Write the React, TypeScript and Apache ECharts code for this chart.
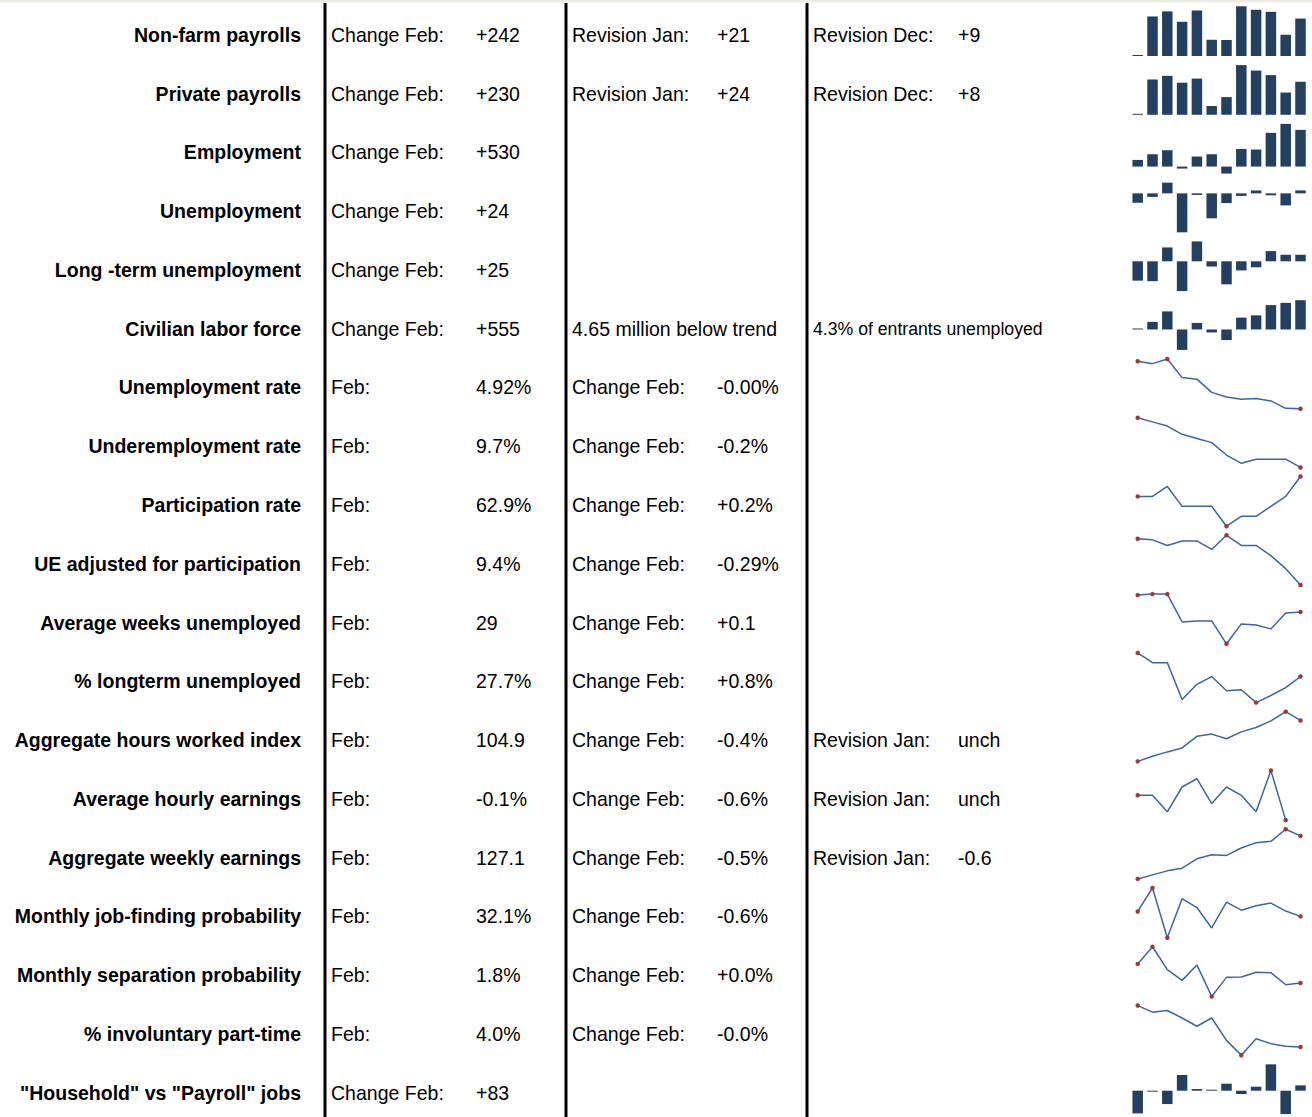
import React, { useEffect, useRef } from "react";
import * as echarts from "echarts";

// ---------- table texts ----------
const labels = [
  "Non-farm payrolls",
  "Private payrolls",
  "Employment",
  "Unemployment",
  "Long -term unemployment",
  "Civilian labor force",
  "Unemployment rate",
  "Underemployment rate",
  "Participation rate",
  "UE adjusted for participation",
  "Average weeks unemployed",
  "% longterm unemployed",
  "Aggregate hours worked index",
  "Average hourly earnings",
  "Aggregate weekly earnings",
  "Monthly job-finding probability",
  "Monthly separation probability",
  "% involuntary part-time",
  "\"Household\" vs \"Payroll\" jobs",
];

const col1Key = [
  "Change Feb:", "Change Feb:", "Change Feb:", "Change Feb:", "Change Feb:", "Change Feb:",
  "Feb:", "Feb:", "Feb:", "Feb:", "Feb:", "Feb:", "Feb:", "Feb:", "Feb:", "Feb:", "Feb:", "Feb:",
  "Change Feb:",
];
const col1Val = [
  "+242", "+230", "+530", "+24", "+25", "+555",
  "4.92%", "9.7%", "62.9%", "9.4%", "29", "27.7%", "104.9", "-0.1%", "127.1", "32.1%", "1.8%", "4.0%",
  "+83",
];
const col2Key = [
  "Revision Jan:", "Revision Jan:", "", "", "", "4.65 million below trend",
  "Change Feb:", "Change Feb:", "Change Feb:", "Change Feb:", "Change Feb:", "Change Feb:",
  "Change Feb:", "Change Feb:", "Change Feb:", "Change Feb:", "Change Feb:", "Change Feb:",
  "",
];
const col2Val = [
  "+21", "+24", "", "", "", "",
  "-0.00%", "-0.2%", "+0.2%", "-0.29%", "+0.1", "+0.8%",
  "-0.4%", "-0.6%", "-0.5%", "-0.6%", "+0.0%", "-0.0%",
  "",
];
const col3Key = [
  "Revision Dec:", "Revision Dec:", "", "", "", "4.3% of entrants unemployed",
  "", "", "", "", "", "",
  "Revision Jan:", "Revision Jan:", "Revision Jan:", "", "", "",
  "",
];
const col3Val = [
  "+9", "+8", "", "", "", "",
  "", "", "", "", "", "",
  "unch", "unch", "-0.6", "", "", "",
  "",
];

// ---------- sparkline data (Mar .. Feb) ----------
const months = ["Mar", "Apr", "May", "Jun", "Jul", "Aug", "Sep", "Oct", "Nov", "Dec", "Jan", "Feb"];

const nonFarmPayrolls = [84, 251, 273, 228, 277, 150, 149, 295, 280, 271, 172, 242];
const privatePayrolls = [90, 240, 256, 226, 244, 124, 163, 303, 279, 259, 183, 230];
const employment = [96, 178, 236, -29, 145, 178, -101, 255, 246, 487, 617, 530];
const unemployment = [-77, -29, 88, -320, -13, -205, -80, -21, 24, -16, -99, 24];
const longTermUnemployment = [-74, -76, 53, -114, 76, -20, -88, -35, -23, 39, 25, 25];
const civilianLaborForce = [6, 144, 343, -387, 125, -56, -200, 225, 268, 462, 505, 555];
const unemploymentRate = [5.53, 5.5, 5.56, 5.32, 5.3, 5.13, 5.07, 5.04, 5.05, 5.02, 4.924, 4.92];
const underemploymentRate = [10.9, 10.8, 10.7, 10.5, 10.4, 10.3, 10.0, 9.8, 9.9, 9.9, 9.9, 9.7];
const participationRate = [62.7, 62.7, 62.8, 62.6, 62.6, 62.6, 62.4, 62.5, 62.5, 62.6, 62.7, 62.9];
const ueAdjusted = [10.22, 10.2, 10.1, 10.18, 10.18, 10.03, 10.28, 10.1, 10.1, 9.92, 9.69, 9.4];
const avgWeeksUnemployed = [30.7, 30.8, 30.8, 28.0, 28.1, 28.1, 25.8, 27.8, 27.7, 27.3, 28.9, 29.0];
const pctLongtermUnemployed = [29.4, 28.7, 28.7, 26.05, 27.14, 27.7, 26.68, 26.75, 25.83, 26.34, 26.9, 27.7];
const aggHoursIndex = [103.04, 103.27, 103.47, 103.65, 104.18, 104.28, 104.07, 104.38, 104.58, 104.88, 105.3, 104.9];
const avgHourlyEarnings = [0.2, 0.2, 0.0, 0.3, 0.4, 0.1, 0.3, 0.2, 0.0, 0.5, -0.1, null];
const aggWeeklyEarnings = [123.9, 124.2, 124.5, 124.7, 125.4, 125.7, 125.65, 126.2, 126.6, 126.7, 127.6, 127.1];
const jobFindingProb = [32.66, 35.3, 29.7, 34.1, 33.1, 30.8, 33.7, 32.8, 33.3, 33.6, 32.7, 32.1];
const separationProb = [1.914, 2.016, 1.88, 1.816, 1.908, 1.72, 1.834, 1.836, 1.864, 1.862, 1.79, 1.8];
const involuntaryPartTime = [4.5, 4.42, 4.44, 4.35, 4.25, 4.35, 4.08, 3.9, 4.1, 4.04, 4.01, 4.0];
const householdVsPayroll = [-353, -5, -208, 244, 26, 2, 109, -52, 62, 410, -363, 83];

const sparkData: (number | null)[][] = [
  nonFarmPayrolls, privatePayrolls, employment, unemployment, longTermUnemployment, civilianLaborForce,
  unemploymentRate, underemploymentRate, participationRate, ueAdjusted, avgWeeksUnemployed,
  pctLongtermUnemployed, aggHoursIndex, avgHourlyEarnings, aggWeeklyEarnings, jobFindingProb,
  separationProb, involuntaryPartTime, householdVsPayroll,
];
const sparkType = [
  "bar", "bar", "bar", "bar", "bar", "bar",
  "line", "line", "line", "line", "line", "line", "line", "line", "line", "line", "line", "line",
  "bar",
];

// ---------- layout ----------
const W = 1312;
const H = 1117;
const ROW0 = 34.5;
const ROWH = 58.78;
const FONT = "'Liberation Sans', Arial, Helvetica, sans-serif";
const SX = 0.93;
const BAR_COLOR = "#244061";
const LINE_COLOR = "#3b66a0";
const MARK_COLOR = "#9e3a35";

function txt(text: string, x: number, y: number, opt: { bold?: boolean; size?: number; align?: string } = {}) {
  const align = opt.align || "left";
  return {
    type: "text",
    x,
    y,
    scaleX: SX,
    silent: true,
    style: {
      text,
      fill: "#000",
      fontSize: opt.size || 21,
      fontFamily: FONT,
      fontWeight: opt.bold ? "bold" : "normal",
      align,
      textAlign: align,
      verticalAlign: "middle",
      textVerticalAlign: "middle",
    },
  };
}

function buildOption() {
  const graphics: any[] = [];
  graphics.push({ type: "rect", shape: { x: 0, y: 0, width: W, height: 2.5 }, style: { fill: "#eeece1" }, silent: true });
  [325, 566, 807].forEach((x) => {
    graphics.push({
      type: "line",
      shape: { x1: x, y1: 3, x2: x, y2: H },
      style: { stroke: "#000", lineWidth: 3 },
      silent: true,
    });
  });

  labels.forEach((lab, i) => {
    const y = ROW0 + ROWH * i;
    graphics.push(txt(lab, 301, y, { bold: true, align: "right" }));
    if (col1Key[i]) graphics.push(txt(col1Key[i], 331, y));
    if (col1Val[i]) graphics.push(txt(col1Val[i], 476, y));
    if (col2Key[i]) graphics.push(txt(col2Key[i], 572, y));
    if (col2Val[i]) graphics.push(txt(col2Val[i], 717, y));
    if (col3Key[i]) graphics.push(txt(col3Key[i], 813, y, { size: col3Val[i] ? 21 : 19 }));
    if (col3Val[i]) graphics.push(txt(col3Val[i], 958, y));
  });

  const grid: any[] = [];
  const xAxis: any[] = [];
  const yAxis: any[] = [];
  const series: any[] = [];

  sparkData.forEach((data, i) => {
    const y = ROW0 + ROWH * i;
    grid.push({ left: 1130.3, top: y - 28.2, width: 177.6, height: 49.7 });
    xAxis.push({ type: "category", gridIndex: i, data: months, boundaryGap: true, show: false });
    const vals = data.filter((v) => v !== null) as number[];
    const dmin = Math.min(...vals);
    const dmax = Math.max(...vals);
    if (sparkType[i] === "bar") {
      const mixed = dmin < 0 && dmax > 0;
      const ymin = mixed ? dmin : dmin - (dmax - dmin) * 0.02;
      yAxis.push({ type: "value", gridIndex: i, min: ymin, max: dmax, show: false });
      series.push({
        type: "bar",
        xAxisIndex: i,
        yAxisIndex: i,
        data,
        barWidth: 10.5,
        barMinHeight: 1,
        itemStyle: { color: BAR_COLOR },
        silent: true,
      });
    } else {
      yAxis.push({ type: "value", gridIndex: i, min: dmin, max: dmax, show: false });
      let lastIdx = 0;
      data.forEach((v, k) => {
        if (v !== null) lastIdx = k;
      });
      const items = data.map((v, k) => {
        if (v === null) return { value: null };
        const mark = k === 0 || k === lastIdx || v === dmin || v === dmax;
        return mark ? { value: v, symbol: "circle", symbolSize: 4.5 } : { value: v, symbol: "none" };
      });
      series.push({
        type: "line",
        xAxisIndex: i,
        yAxisIndex: i,
        data: items,
        showSymbol: true,
        showAllSymbol: true,
        symbol: "circle",
        clip: false,
        connectNulls: false,
        lineStyle: { color: LINE_COLOR, width: 1.5 },
        itemStyle: { color: MARK_COLOR, borderWidth: 0 },
        silent: true,
      });
    }
  });

  return {
    animation: false,
    backgroundColor: "#fff",
    grid,
    xAxis,
    yAxis,
    series,
    graphic: { elements: graphics },
  };
}

export default function App() {
  const ref = useRef<HTMLDivElement>(null);
  useEffect(() => {
    const chart = echarts.init(ref.current!, null, { renderer: "svg" });
    chart.setOption(buildOption() as any);
    return () => chart.dispose();
  }, []);
  return (
    <div
      ref={ref}
      style={{ position: "absolute", left: 0, top: 0, width: W, height: H, background: "#fff" }}
    />
  );
}
